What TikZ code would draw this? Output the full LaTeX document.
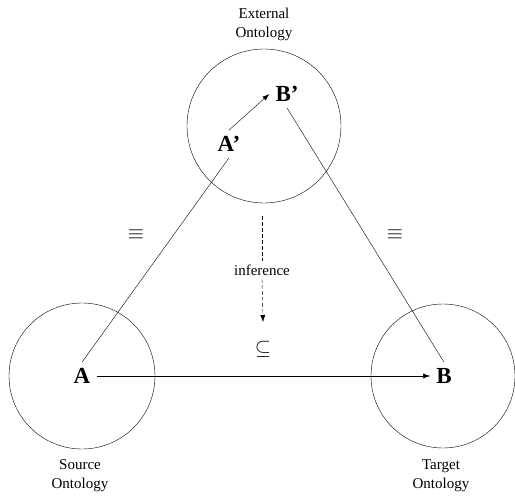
\documentclass[tikz,border=0pt]{standalone}
\usepackage{fontspec}
\setmainfont{Liberation Serif}
\usetikzlibrary{arrows.meta}
\begin{document}
\begin{tikzpicture}[x=1pt, y=-1pt,
    onto/.style={circle, draw, inner sep=0pt},
    concept/.style={font=\fontsize{23}{23}\selectfont\bfseries, inner sep=6pt},
    caption/.style={align=center, font=\fontsize{15}{19}\selectfont},
    rel/.style={font=\fontsize{20}{20}\selectfont},
    arrow/.style={-{Latex[length=7pt,width=5pt]}, thin}
]
    \useasboundingbox (0,0) rectangle (515,496);

    % Ontologies
    \node[onto, minimum size=154pt] (external) at (264,126) {};
    \node[onto, minimum size=146pt] (source) at (82,376) {};
    \node[onto, minimum size=144pt] (target) at (443,376) {};
    \node[caption] (extlabel) at (264,24) {External\\Ontology};
    \node[caption] (srclabel) at (80,476) {Source\\Ontology};
    \node[caption] (tgtlabel) at (441,476) {Target\\Ontology};

    % Concepts
    \node[concept] (A) at (82,376) {A};
    \node[concept] (B) at (444,376) {B};
    \node[concept] (A') at (229,144) {A’};
    \node[concept] (B') at (287,94) {B’};

    % Mappings
    \draw[thin] (A.north) -- (A'.south);
    \draw[thin] (B'.south) -- (B.north);
    \draw[arrow] (A'.north) -- (B'.west);
    \draw[arrow] (A) -- (B);

    % Relation labels
    \node[rel] (eqleft) at (136,235) {$\equiv$};
    \node[rel] (eqright) at (395,235) {$\equiv$};
    \node[rel] (sub) at (263,349) {$\subseteq$};

    % Inference
    \node[font=\fontsize{15}{15}\selectfont] (inference) at (262,270) {inference};
    \coordinate (inftop) at (262,216);
    \coordinate (infend) at (263,322);
    \draw[thin, dash pattern=on 4pt off 2pt] (inftop) -- (inference.north);
    \draw[arrow, dash pattern=on 4pt off 2pt] (inference.south) -- (infend);
\end{tikzpicture}
\end{document}
